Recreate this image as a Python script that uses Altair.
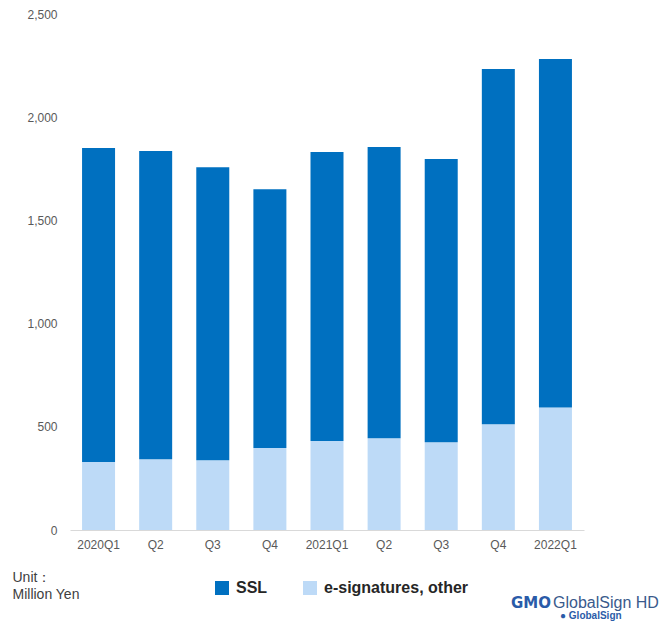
import altair as alt
import pandas as pd

periods = ["2020Q1", "2020Q2", "2020Q3", "2020Q4", "2021Q1", "2021Q2", "2021Q3", "2021Q4", "2022Q1"]
esig = [329, 343, 338, 397, 431, 444, 425, 512, 593]
ssl = [1522, 1493, 1420, 1254, 1400, 1412, 1372, 1721, 1689]
series = ["SSL", "e-signatures, other"]
colors = ["#0070C0", "#BDDAF7"]

rows = []
for p, e, s in zip(periods, esig, ssl):
    rows.append({"period": p, "series": series[1], "value": e, "ord": 0})
    rows.append({"period": p, "series": series[0], "value": s, "ord": 1})
df = pd.DataFrame(rows)

font = "Liberation Sans"

bars = alt.Chart(df).mark_bar(size=33).encode(
    x=alt.X("period:N", sort=periods, title=None,
            scale=alt.Scale(paddingInner=0.42, paddingOuter=0.21),
            axis=alt.Axis(labelExpr="slice(datum.value,4)=='Q1' ? datum.value : slice(datum.value,4)",
                          labelAngle=0, ticks=False, tickSize=0, labelPadding=9,
                          domainColor="#D9D9D9", labelColor="#595959", labelFontSize=12,
                          labelFont=font, grid=False)),
    y=alt.Y("value:Q", stack="zero",
            scale=alt.Scale(domain=[0, 2500], nice=False),
            axis=alt.Axis(values=[0, 500, 1000, 1500, 2000, 2500], format=",d", grid=False,
                          domain=False, ticks=False, tickSize=0, labelPadding=13,
                          labelColor="#595959", labelFontSize=12, labelFont=font,
                          title=["Unit：", "Million Yen"], titleAngle=0, titleAlign="left",
                          titleBaseline="top", titleX=-58, titleY=556, titleFontSize=14,
                          titleFontWeight="normal", titleColor="#404040", titleFont=font,
                          titleLineHeight=17)),
    color=alt.Color("series:N", scale=alt.Scale(domain=series, range=colors),
                    legend=alt.Legend(orient="none", legendX=144, legendY=566, direction="horizontal",
                                      title=None, symbolType="square", symbolSize=196,
                                      symbolStrokeWidth=0, labelFontSize=16, labelFontWeight="bold",
                                      labelColor="#262626", labelFont=font, labelOffset=6,
                                      columnPadding=34, padding=0)),
    order=alt.Order("ord:Q"),
)

one = alt.Data(values=[{}])
gmo = alt.Chart(one).mark_text(text="GMO", font="DejaVu Sans", fontSize=15, fontWeight="bold",
                               color="#2A5BA8", align="left", baseline="alphabetic").encode(
    x=alt.value(441), y=alt.value(594))
gs = alt.Chart(one).mark_text(text="GlobalSign HD", font=font, fontSize=16,
                              color="#3A5A8C", align="left", baseline="alphabetic").encode(
    x=alt.value(483), y=alt.value(594))
gs2 = alt.Chart(one).mark_text(text="● GlobalSign", font=font, fontSize=10, fontWeight="bold",
                               color="#2A5BA8", align="left", baseline="alphabetic").encode(
    x=alt.value(490), y=alt.value(605))

chart = alt.layer(bars, gmo, gs, gs2).properties(
    width=514, height=516,
    autosize=alt.AutoSizeParams(type="none"),
    padding={"left": 62, "top": 6, "right": 79, "bottom": 92},
).configure_view(stroke=None)

chart.save("out.html", embed_options={"renderer": "svg", "actions": False})
